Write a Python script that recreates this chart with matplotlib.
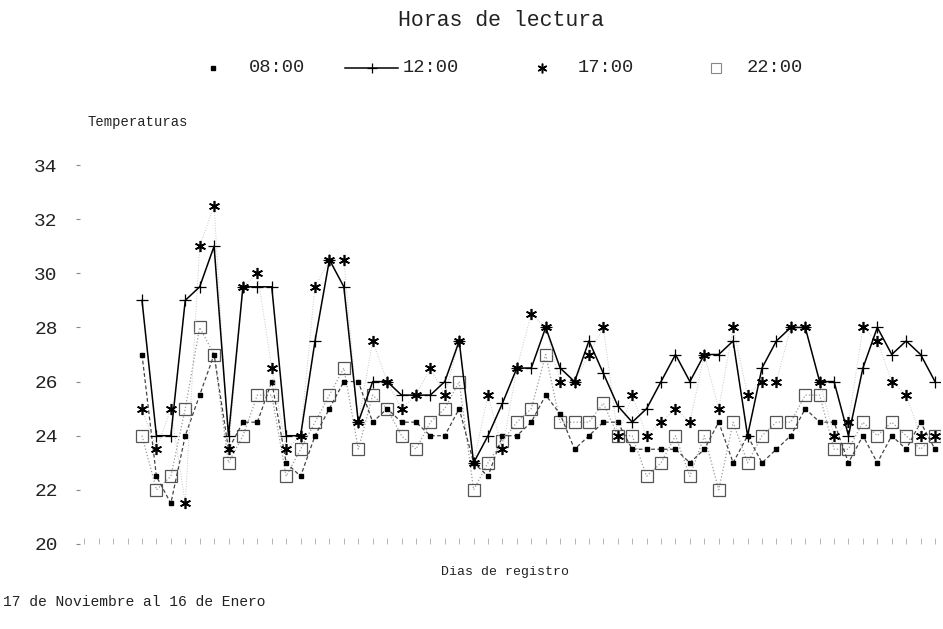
import numpy as np
import matplotlib
matplotlib.use("Agg")
import matplotlib.pyplot as plt
from matplotlib.lines import Line2D

# lecturas diarias (17 Nov - 16 Ene), una lista por hora
t08 = [27, 22.5, 21.5, 24, 25.5, 27, 23.5, 24.5, 24.5, 26,
       23, 22.5, 24, 25, 26, 26, 24.5, 25, 24.5, 24.5,
       24, 24, 25, 23, 22.5, 24, 24, 24.5, 25.5, 24.8,
       23.5, 24, 24.5, 24.5, 23.5, 23.5, 23.5, 23.5, 23, 23.5,
       24.5, 23, 24, 23, 23.5, 24, 25, 24.5, 24.5, 23,
       24, 23, 24, 23.5, 24.5, 23.5]
t12 = [29, 24, 24, 29, 29.5, 31, 24, 29.5, 29.5, 29.5,
       24, 24, 27.5, 30.5, 29.5, 24.5, 26, 26, 25.5, 25.5,
       25.5, 26, 27.5, 23, 24, 25.2, 26.5, 26.5, 28, 26.5,
       26, 27.5, 26.3, 25.1, 24.5, 25, 26, 27, 26, 27,
       27, 27.5, 24, 26.5, 27.5, 28, 28, 26, 26, 24,
       26.5, 28, 27, 27.5, 27, 26]
t17 = [25, 23.5, 25, 21.5, 31, 32.5, 23.5, 29.5, 30, 26.5,
       23.5, 24, 29.5, 30.5, 30.5, 24.5, 27.5, 26, 25, 25.5,
       26.5, 25.5, 27.5, 23, 25.5, 23.5, 26.5, 28.5, 28, 26,
       26, 27, 28, 24, 25.5, 24, 24.5, 25, 24.5, 27,
       25, 28, 25.5, 26, 26, 28, 28, 26, 24, 24.5,
       28, 27.5, 26, 25.5, 24, 24]
t22 = [24, 22, 22.5, 25, 28, 27, 23, 24, 25.5, 25.5,
       22.5, 23.5, 24.5, 25.5, 26.5, 23.5, 25.5, 25, 24, 23.5,
       24.5, 25, 26, 22, 23, 23.8, 24.5, 25, 27, 24.5,
       24.5, 24.5, 25.2, 24, 24, 22.5, 23, 24, 22.5, 24,
       22, 24.5, 23, 24, 24.5, 24.5, 25.5, 25.5, 23.5, 23.5,
       24.5, 24, 24.5, 24, 23.5, 24]
horas = ["08:00", "12:00", "17:00", "22:00"]
yticks = [20, 22, 24, 26, 28, 30, 32, 34]

W, H = 943, 629
FONT = "Liberation Mono"
INK = "#222222"
ASTER = (6, 2, 0)  # asterisco de trazos


def fx(px):
    return px / W


def fy(py):
    return 1 - py / H


def main():
    dias = np.arange(len(t12))
    fig = plt.figure(figsize=(W / 100, H / 100), dpi=100)
    fig.patch.set_facecolor("white")
    # ejes: x pixel 80..940, y pixel 165 (34) .. 544 (20)
    ax = fig.add_axes([fx(80), fy(544), fx(940) - fx(80), fy(165) - fy(544)])
    step = (935 - 142) / (len(dias) - 1)
    ax.set_xlim((80 - 142) / step, len(dias) - 1 + (940 - 935) / step)
    ax.set_ylim(20, 34)

    ax.plot(dias, t22, linestyle=":", color="#9a9a9a", lw=0.9,
            marker="s", ms=8.5, mfc="none", mec="#555555", mew=0.9)
    ax.plot(dias, t08, linestyle=(0, (3, 2)), color="#444444", lw=0.9,
            marker="s", ms=3, mfc="black", mec="black")
    ax.plot(dias, t17, linestyle=":", color="#c8c8c8", lw=0.7,
            marker=ASTER, ms=8, mec="black", mew=1.2)
    ax.plot(dias, t12, linestyle="-", color="black", lw=1.1,
            marker="+", ms=8, mec="black", mew=0.9)

    for s in ax.spines.values():
        s.set_visible(False)
    ax.set_yticks(yticks)
    ax.set_yticklabels([str(v) for v in yticks], fontfamily=FONT,
                       fontsize=14, color=INK)
    ax.tick_params(axis="y", length=3, width=0.8, color="#888888", pad=13)
    ax.set_xticks(np.arange(-4, len(dias)))
    ax.set_xticklabels([])
    ax.tick_params(axis="x", direction="in", length=4, width=0.6,
                   color="#aaaaaa")

    fig.text(fx(501), fy(20), "Horas de lectura", ha="center", va="center",
             fontfamily=FONT, fontsize=15.5, color=INK)

    # leyenda manual
    ly = fy(68)
    fig.add_artist(Line2D([fx(213)], [ly], transform=fig.transFigure,
                          marker="s", ms=3, color="black", ls="none"))
    fig.add_artist(Line2D([fx(345), fx(398)], [ly, ly], transform=fig.transFigure,
                          color="black", lw=1.1))
    fig.add_artist(Line2D([fx(372)], [ly], transform=fig.transFigure,
                          marker="+", ms=7, mew=0.9, color="black", ls="none"))
    fig.add_artist(Line2D([fx(542)], [ly], transform=fig.transFigure,
                          marker=ASTER, ms=7, mew=1.1, color="black", ls="none"))
    fig.add_artist(Line2D([fx(716)], [ly], transform=fig.transFigure,
                          marker="s", ms=7, mfc="none", mec="#888888", mew=0.8,
                          ls="none"))
    for lbl, px in zip(horas, [249, 403, 578, 747]):
        fig.text(fx(px), ly, lbl, ha="left", va="center", fontfamily=FONT,
                 fontsize=13.5, color=INK)

    fig.text(fx(87), fy(122), "Temperaturas", ha="left", va="center",
             fontfamily=FONT, fontsize=10, color=INK)
    fig.text(fx(505), fy(572), "Dias de registro", ha="center", va="center",
             fontfamily=FONT, fontsize=9.5, color=INK)
    fig.text(fx(3), fy(602), "17 de Noviembre al 16 de Enero", ha="left",
             va="center", fontfamily=FONT, fontsize=10.5, color=INK)

    fig.savefig("out.png", dpi=100, facecolor="white")


if __name__ == "__main__":
    main()
